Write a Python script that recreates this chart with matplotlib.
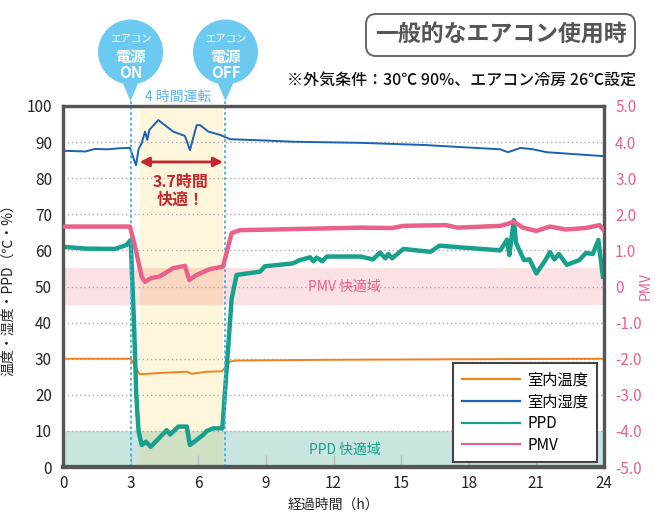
import matplotlib
matplotlib.use("Agg")
import matplotlib.pyplot as plt
from matplotlib.patches import Circle, Polygon, FancyBboxPatch

plt.rcParams['font.family'] = ['Noto Sans CJK JP', 'DejaVu Sans']

# 室内湿度
hum_t = [0, 1.0, 1.4, 2.0, 2.5, 2.97, 3.1, 3.24, 3.35, 3.49, 3.64, 3.74, 3.83, 4.23, 4.89, 5.41,
         5.63, 5.93, 6.08, 6.45, 6.97, 7.41, 8.74, 10.2, 13.2, 16.0, 19.4, 19.74, 20.3, 20.85,
         21.46, 24.0]
hum_v = [87.6, 87.4, 88.1, 88.0, 88.3, 88.4, 86.0, 83.6, 88.0, 89.7, 92.9, 90.6, 93.4, 96.1, 92.9, 91.7,
         87.8, 94.7, 94.7, 92.9, 92.0, 90.8, 90.5, 90.1, 89.8, 89.2, 88.0, 87.2, 88.4, 88.0,
         87.2, 86.1]

# 室内温度
temp_t = [0, 3.0, 3.4, 4.5, 5.5, 5.7, 6.4, 7.05, 7.41, 7.7, 12.0, 24.0]
temp_v = [30.0, 30.0, 25.7, 26.1, 26.4, 25.8, 26.4, 26.5, 29.2, 29.5, 29.7, 30.0]

# PPD
ppd_t = [0, 1.0, 2.3, 2.82, 3.0, 3.05, 3.15, 3.25, 3.35, 3.49, 3.68, 3.89, 4.6, 4.75, 5.12, 5.49,
         5.63, 6.22, 6.38, 6.67, 7.07, 7.48, 7.7, 8.15, 8.74, 8.96, 10.2, 10.5, 10.96, 11.1,
         11.25, 11.5, 11.7, 13.2, 13.75, 14.06, 14.3, 14.43, 14.6, 15.1, 16.3, 16.7, 19.4,
         19.7, 19.8, 20.0, 20.1, 20.45, 20.7, 21.0, 21.4, 21.6, 21.8, 22.0, 22.35, 22.9, 23.2,
         23.5, 23.75, 23.95]
ppd_v = [61.0, 60.5, 60.4, 61.5, 62.9, 55.0, 40.0, 20.0, 10.0, 6.1, 7.0, 5.6, 10.2, 9.0, 11.2, 11.2,
         6.1, 8.9, 10.0, 10.7, 10.7, 46.5, 53.2, 53.6, 54.1, 55.6, 56.4, 57.3, 58.1, 57.0,
         58.0, 57.0, 58.3, 58.3, 57.5, 59.4, 57.8, 59.0, 57.8, 60.4, 59.6, 61.3, 60.0,
         63.0, 58.7, 68.4, 62.0, 57.3, 57.5, 53.6, 57.3, 59.5, 57.5, 59.0, 56.0, 57.3, 59.3,
         59.0, 62.9, 52.7]

# PMV
pmv_t = [0, 2.97, 3.2, 3.49, 3.64, 3.9, 4.3, 4.89, 5.41, 5.6, 5.93, 6.5, 7.1, 7.48, 7.85, 13.2,
         14.6, 15.1, 17.0, 17.5, 19.4, 19.7, 20.0, 20.4, 21.0, 21.6, 22.3, 23.2, 23.8, 24.0]
pmv_v = [1.66, 1.66, 1.1, 0.27, 0.13, 0.23, 0.28, 0.51, 0.57, 0.18, 0.32, 0.48, 0.55, 1.48, 1.56, 1.63,
         1.62, 1.68, 1.70, 1.63, 1.68, 1.73, 1.80, 1.63, 1.54, 1.66, 1.58, 1.62, 1.70, 1.55]

x_ticks = [0, 3, 6, 9, 12, 15, 18, 21, 24]
left_ticks = list(range(0, 101, 10))
right_ticks = [5, 4, 3, 2, 1, 0, -1, -2, -3, -4, -5]
right_labels = ['5.0', '4.0', '3.0', '2.0', '1.0', '0', '-1.0', '-2.0', '-3.0', '-4.0', '-5.0']

ac_on, ac_off = 3.0, 7.2
comfort_start, comfort_end = 3.4, 7.1

c_orange = '#f0821e'
c_blue = '#1a62b2'
c_teal = '#17a08c'
c_pink = '#e8618a'
c_frame = '#555555'
c_bubble = '#6ccaf0'

fig = plt.figure(figsize=(6.58, 5.18), dpi=100)
ax = fig.add_axes([63 / 658, 51 / 518, 541 / 658, 361 / 518])
ax2 = ax.twinx()

# 背景の帯
ax.axhspan(45, 55, color='#fbe1e4', lw=0, zorder=0)
ax.axhspan(0, 10, color='#c9e5e0', lw=0, zorder=0)
ax.axvspan(comfort_start, comfort_end, color='#fef6dc', lw=0, zorder=0)
ax.fill_between([comfort_start, comfort_end], 45, 55, color='#f9d8c2', lw=0, zorder=0.5)
ax.fill_between([comfort_start, comfort_end], 0, 10, color='#cfe0c4', lw=0, zorder=0.5)

for v in range(10, 100, 10):
    ax.axhline(v, color='#aaaaaa', lw=1, ls=(0, (1, 2)), zorder=1)

ax.plot(temp_t, temp_v, color=c_orange, lw=1.4, zorder=3, label='室内温度')
ax.plot(hum_t, hum_v, color=c_blue, lw=1.4, zorder=3, label='室内湿度')
ax.plot(ppd_t, ppd_v, color=c_teal, lw=3.2, zorder=4, label='PPD')
ax2.plot(pmv_t, pmv_v, color=c_pink, lw=3.2, zorder=4, label='PMV')

# 電源 ON / OFF の点線
for xv in (ac_on, ac_off):
    ax.axvline(xv, ymin=0, ymax=1.018, color='#45aeea', lw=1.3, ls=(0, (1.5, 1.5)),
               clip_on=False, zorder=5)

ax.set_xlim(0, 24)
ax.set_ylim(0, 100)
ax2.set_ylim(-5, 5)
ax.set_xticks(x_ticks)
ax.set_yticks(left_ticks)
ax2.set_yticks(right_ticks)
ax2.set_yticklabels(right_labels)
ax.tick_params(axis='x', direction='in', length=9, width=1, color='#bbbbbb', labelsize=11,
               labelcolor='#222222', pad=6)
ax.tick_params(axis='y', length=0, labelsize=11, labelcolor='#222222', pad=8)
ax2.tick_params(axis='y', length=0, labelsize=11, labelcolor=c_pink, pad=8)

for a in (ax, ax2):
    for s in a.spines.values():
        s.set_color(c_frame)
        s.set_linewidth(2.3)
    a.spines['bottom'].set_linewidth(3)

ax.set_xlabel('経過時間（h）', fontsize=10, color='#222222', labelpad=4)
ax.set_ylabel('温度・湿度・PPD（℃・%）', fontsize=10, color='#222222')
ax.yaxis.set_label_coords(-0.088, 0.5)
ax2.set_ylabel('PMV', fontsize=10, color=c_pink)
ax2.yaxis.set_label_coords(1.064, 0.5)

# 快適域テキスト
ax.text(12.5, 50, 'PMV 快適域', color=c_pink, fontsize=10, ha='center', va='center', zorder=2)
ax.text(12.5, 4.8, 'PPD 快適域', color=c_teal, fontsize=10, ha='center', va='center', zorder=2)

# 3.7時間快適
ax.annotate('', xy=(comfort_start, 84.5), xytext=(comfort_end, 84.5),
            arrowprops=dict(arrowstyle='<|-|>', color='#c4262e', lw=2, mutation_scale=14,
                            shrinkA=0, shrinkB=0), zorder=6)
ax.text(5.2, 76.5, '3.7時間\n快適！', color='#c4262e', fontsize=11.5, fontweight='bold',
        ha='center', va='center', linespacing=1.1, zorder=6)

h1, l1 = ax.get_legend_handles_labels()
h2, l2 = ax2.get_legend_handles_labels()
leg = ax2.legend(h1 + h2, l1 + l2, loc='lower right', bbox_to_anchor=(0.987, 0.014),
                 fontsize=11, frameon=True, fancybox=False, framealpha=1, handlelength=3.8,
                 borderpad=0.55, labelspacing=0.3, handletextpad=0.5, borderaxespad=0)
leg.get_frame().set_edgecolor('#444444')
leg.get_frame().set_linewidth(1.5)
for ln in leg.get_lines():
    ln.set_linewidth(1.6)

# 上部の飾り（ピクセル座標のオーバーレイ）
ov = fig.add_axes([0, 0, 1, 1], zorder=10)
ov.set_xlim(0, 658)
ov.set_ylim(518, 0)
ov.axis('off')
ov.patch.set_alpha(0)

for cx, word in ((130.5, 'ON'), (225.5, 'OFF')):
    ov.add_patch(Circle((cx, 52), 32.5, color=c_bubble, lw=0))
    ov.add_patch(Polygon([(cx - 9, 80), (cx + 9, 80), (cx, 101)], closed=True, color=c_bubble, lw=0))
    ov.text(cx, 40, 'エアコン', color='white', fontsize=7.5, ha='center', va='center')
    ov.text(cx, 57, '電源', color='white', fontsize=11, fontweight='bold', ha='center', va='center')
    ov.text(cx, 73.5, word, color='white', fontsize=11, fontweight='bold', ha='center', va='center')

ov.text(178, 97, '4 時間運転', color='#5ab4e6', fontsize=10, ha='center', va='center')

ov.add_patch(FancyBboxPatch((366, 14), 269, 42, boxstyle='round,pad=0,rounding_size=10',
                            fc='white', ec='#666666', lw=1.4))
ov.text(500.5, 35, '一般的なエアコン使用時', color='#555555', fontsize=16.5, fontweight='bold',
        ha='center', va='center')
ov.text(636, 80, '※外気条件：30℃ 90%、エアコン冷房 26℃設定', color='#111111', fontsize=11.5,
        fontweight='medium', ha='right', va='center')

fig.savefig('out.png', dpi=100)
